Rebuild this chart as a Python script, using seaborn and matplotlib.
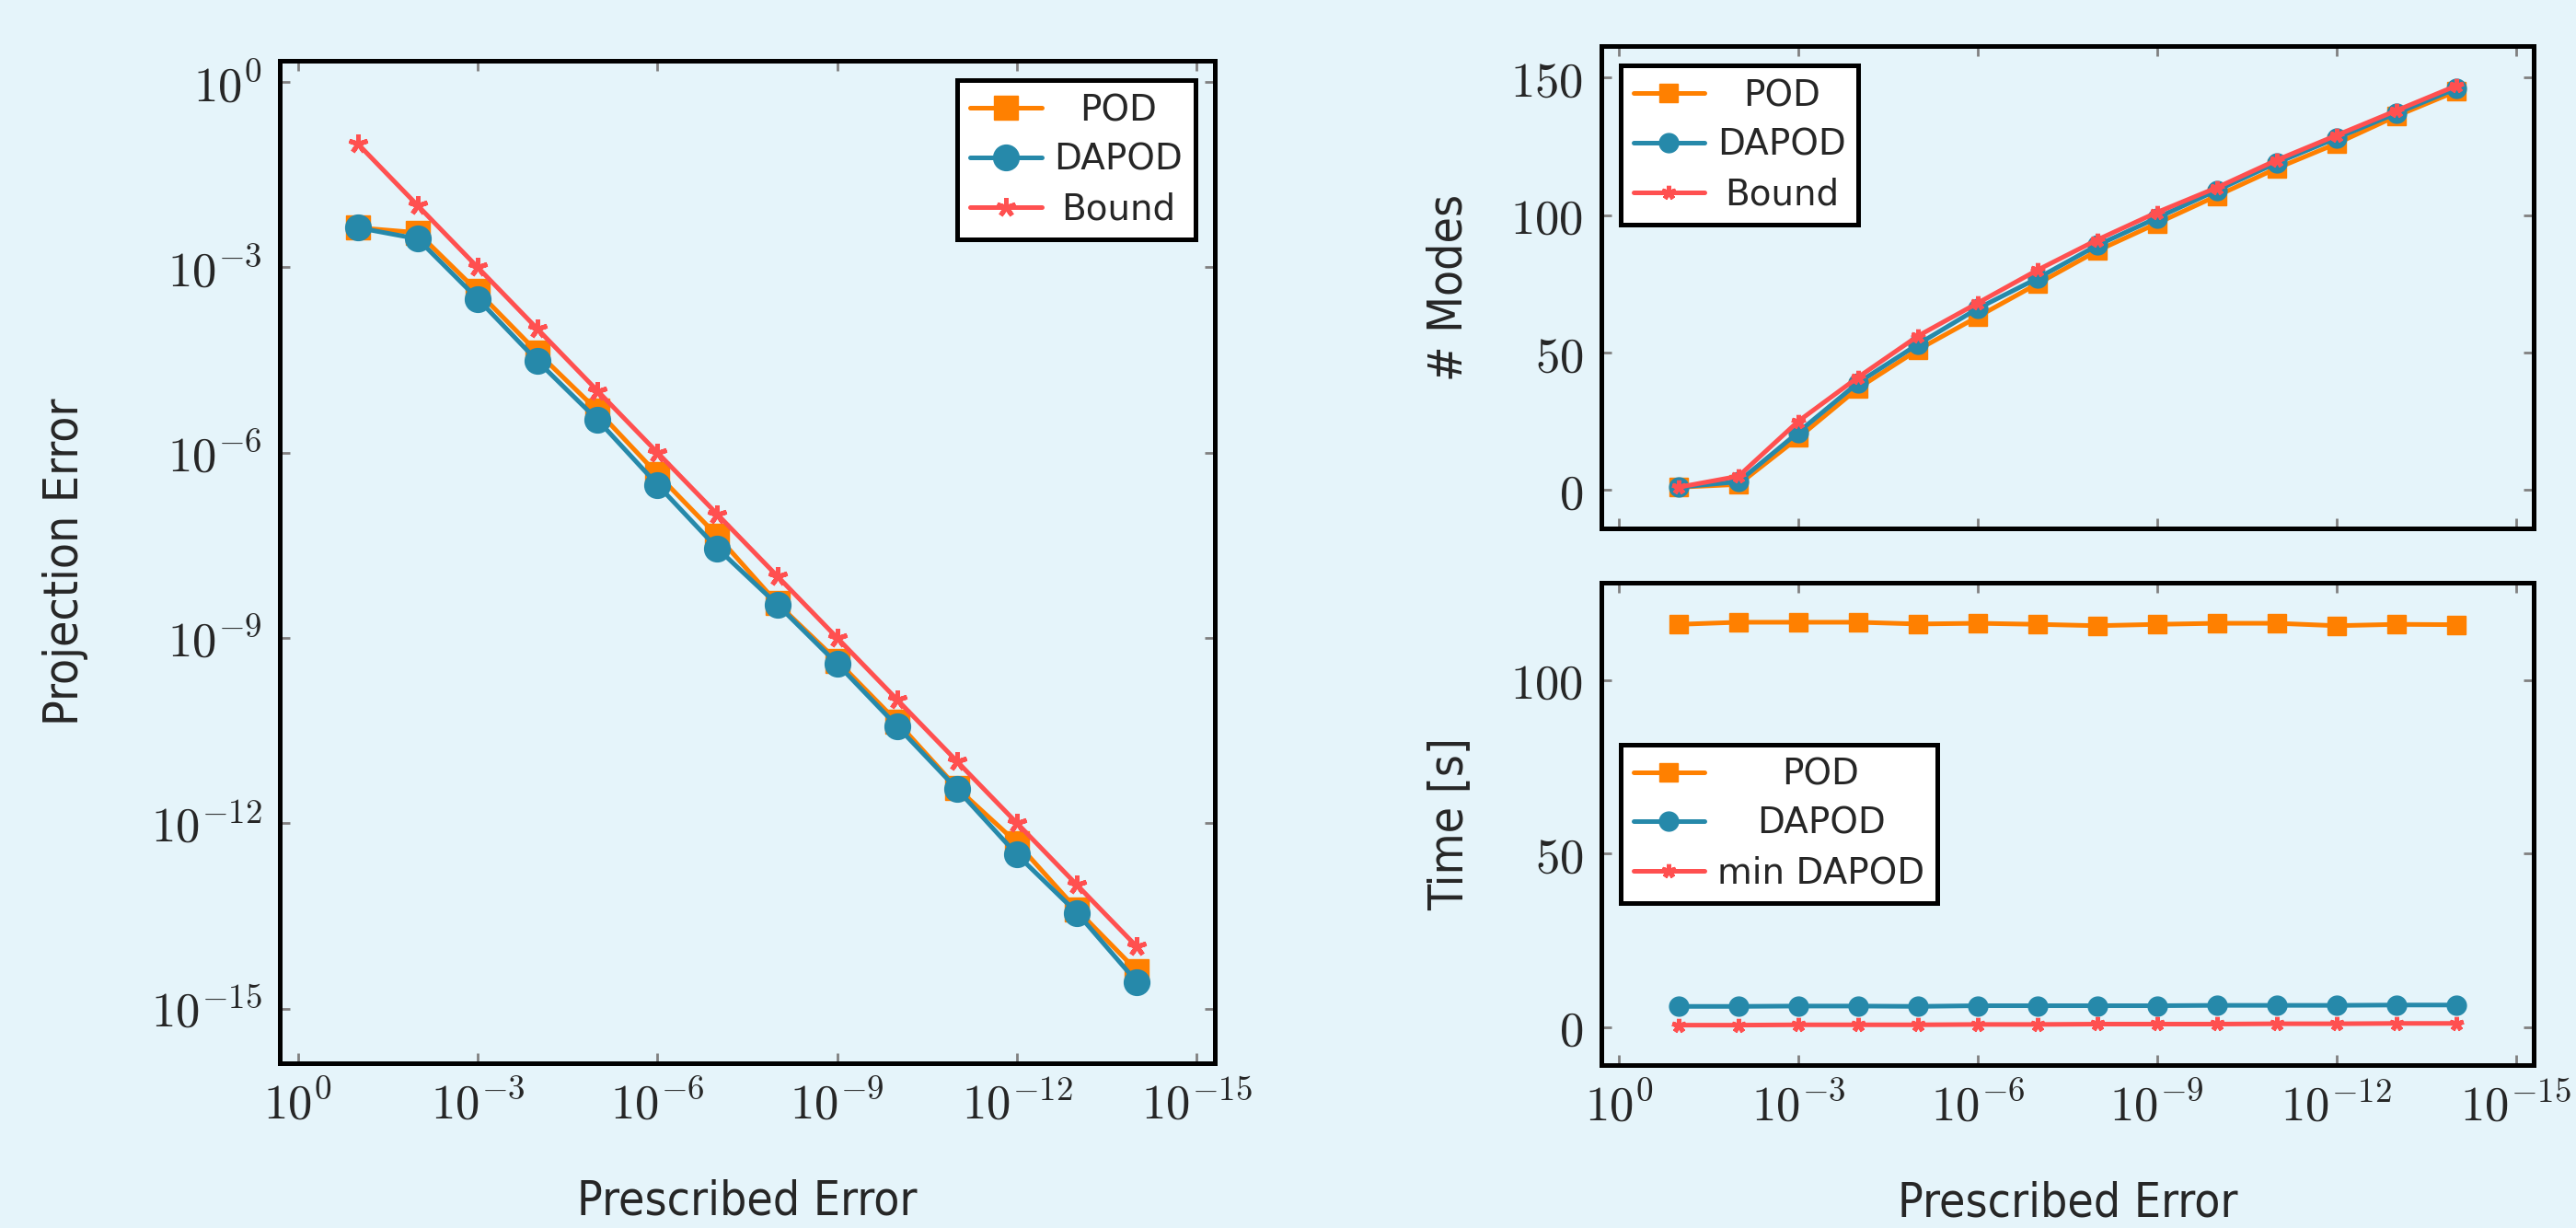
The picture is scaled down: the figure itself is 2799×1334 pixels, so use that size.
import numpy as np
import pandas as pd
import matplotlib
matplotlib.use("Agg")
import matplotlib.pyplot as plt
import seaborn as sns

# ---- data ----
prescribed = [1e-1, 1e-2, 1e-3, 1e-4, 1e-5, 1e-6, 1e-7,
              1e-8, 1e-9, 1e-10, 1e-11, 1e-12, 1e-13, 1e-14]

# projection error (log10 values)
pod_err_log = [-2.36, -2.44, -3.39, -4.38, -5.32, -6.35, -7.35,
               -8.44, -9.37, -10.36, -11.43, -12.32, -13.40, -14.39]
dapod_err_log = [-2.36, -2.54, -3.51, -4.52, -5.47, -6.52, -7.55,
                 -8.46, -9.42, -10.43, -11.45, -12.51, -13.45, -14.57]
bound_err = prescribed

# number of modes
pod_modes = [1, 2, 19, 37, 51, 63, 75, 87, 97, 107, 117, 126, 136, 145]
dapod_modes = [1, 3, 21, 39, 53, 66, 77, 89, 99, 109, 119, 128, 137, 146]
bound_modes = [1, 5, 25, 41, 56, 68, 80, 91, 101, 110, 120, 129, 138, 147]

# time in seconds
pod_time = [116.0, 116.6, 116.6, 116.6, 116.1, 116.3, 116.0,
            115.6, 116.0, 116.3, 116.3, 115.6, 116.0, 115.9]
dapod_time = [5.9, 5.9, 6.0, 6.0, 5.9, 6.1, 6.1,
              6.1, 6.1, 6.2, 6.2, 6.2, 6.3, 6.3]
min_dapod_time = [0.5, 0.5, 0.6, 0.6, 0.6, 0.7, 0.7,
                  0.8, 0.8, 0.8, 0.9, 0.9, 1.0, 1.0]

log_ticks = [1e0, 1e-3, 1e-6, 1e-9, 1e-12, 1e-15]
log_labels = [r"$10^{0}$", r"$10^{-3}$", r"$10^{-6}$", r"$10^{-9}$", r"$10^{-12}$", r"$10^{-15}$"]
modes_ticks = [0, 50, 100, 150]
time_ticks = [0, 50, 100]

# ---- style ----
BG = "#e5f4fa"
C_POD = "#ff8000"
C_DAPOD = "#2689aa"
C_BOUND = "#ff5050"
LABEL_FONT = dict(family=["DejaVu Sans"], fontstretch="condensed", fontsize=18.5)
STAR = (5, 2, 0)  # five-armed asterisk

sns.set_style("ticks")
plt.rcParams["font.family"] = ["DejaVu Sans"]
plt.rcParams["mathtext.fontset"] = "cm"
plt.rcParams["axes.linewidth"] = 1.8

fig = plt.figure(figsize=(13.995, 6.67), dpi=200, facecolor=BG)

ax1 = fig.add_axes([0.1086, 0.1342, 0.3630, 0.8163])
ax2 = fig.add_axes([0.6215, 0.5697, 0.3621, 0.3928])
ax3 = fig.add_axes([0.6215, 0.1327, 0.3621, 0.3928])


def series(ax, x, y, label, color, marker, ms, lw=1.8):
    mew = 1.8 if marker == STAR else 0.5
    sns.lineplot(x=x, y=y, ax=ax, label=label, color=color, marker=marker,
                 markersize=ms, markeredgewidth=mew,
                 markeredgecolor=color, linewidth=lw)


def style_axes(ax):
    ax.set_facecolor(BG)
    for sp in ax.spines.values():
        sp.set_visible(True)
        sp.set_color("black")
        sp.set_linewidth(1.8)
    ax.tick_params(which="both", direction="in", top=True, right=True,
                   color="#808080", length=3.8, width=1.0, labelsize=19, pad=7)
    ax.minorticks_off()


def centered_legend(ax, **kw):
    leg = ax.legend(fancybox=False, framealpha=1.0, edgecolor="black",
                    facecolor="white", borderpad=0.35, handlelength=2.0,
                    handletextpad=0.35, labelspacing=0.4,
                    prop={"family": "DejaVu Sans", "size": 14}, **kw)
    leg.get_frame().set_linewidth(1.8)
    fig.canvas.draw()
    renderer = fig.canvas.get_renderer()
    texts = leg.get_texts()
    widths = [t.get_window_extent(renderer).width for t in texts]
    w = max(widths)
    for t, wi in zip(texts, widths):
        t.set_position(((w - wi) / 2, 0))
    return leg


# ---- left: projection error ----
series(ax1, prescribed, [10 ** v for v in pod_err_log], "POD", C_POD, "s", 9.5)
series(ax1, prescribed, [10 ** v for v in dapod_err_log], "DAPOD", C_DAPOD, "o", 10)
series(ax1, prescribed, bound_err, "Bound", C_BOUND, STAR, 7.5)
ax1.set_xscale("log")
ax1.set_yscale("log")
ax1.set_xlim(2, 5e-16)
ax1.set_ylim(1.3e-16, 2.2)
ax1.set_xticks(log_ticks, log_labels)
ax1.set_yticks(log_ticks, log_labels)
style_axes(ax1)
ax1.set_xlabel("Prescribed Error", **LABEL_FONT)
ax1.set_ylabel("Projection Error", **LABEL_FONT)
ax1.xaxis.set_label_coords(0.5, -0.115)
ax1.yaxis.set_label_coords(-0.205, 0.5)
centered_legend(ax1, loc="upper right", borderaxespad=0.55)

# ---- top right: number of modes ----
series(ax2, prescribed, pod_modes, "POD", C_POD, "s", 7.5)
series(ax2, prescribed, dapod_modes, "DAPOD", C_DAPOD, "o", 7.5)
series(ax2, prescribed, bound_modes, "Bound", C_BOUND, STAR, 5.5)
ax2.set_xscale("log")
ax2.set_xlim(2, 5e-16)
ax2.set_ylim(-14, 161.5)
ax2.set_xticks(log_ticks, [""] * len(log_ticks))
ax2.set_yticks(modes_ticks, [f"${v}$" for v in modes_ticks])
style_axes(ax2)
ax2.set_xlabel("")
ax2.set_ylabel("# Modes", **LABEL_FONT)
ax2.yaxis.set_label_coords(-0.138, 0.5)
centered_legend(ax2, loc="upper left", borderaxespad=0.55)

# ---- bottom right: time ----
series(ax3, prescribed, pod_time, "POD", C_POD, "s", 7.5)
series(ax3, prescribed, dapod_time, "DAPOD", C_DAPOD, "o", 7.5)
series(ax3, prescribed, min_dapod_time, "min DAPOD", C_BOUND, STAR, 5.5)
ax3.set_xscale("log")
ax3.set_xlim(2, 5e-16)
ax3.set_ylim(-11, 128)
ax3.set_xticks(log_ticks, log_labels)
ax3.set_yticks(time_ticks, [f"${v}$" for v in time_ticks])
style_axes(ax3)
ax3.set_xlabel("Prescribed Error", **LABEL_FONT)
ax3.set_ylabel("Time [s]", **LABEL_FONT)
ax3.xaxis.set_label_coords(0.5, -0.24)
ax3.yaxis.set_label_coords(-0.138, 0.5)
centered_legend(ax3, loc="center left", borderaxespad=0.55)

fig.savefig("out.png", dpi=200, facecolor=BG)
